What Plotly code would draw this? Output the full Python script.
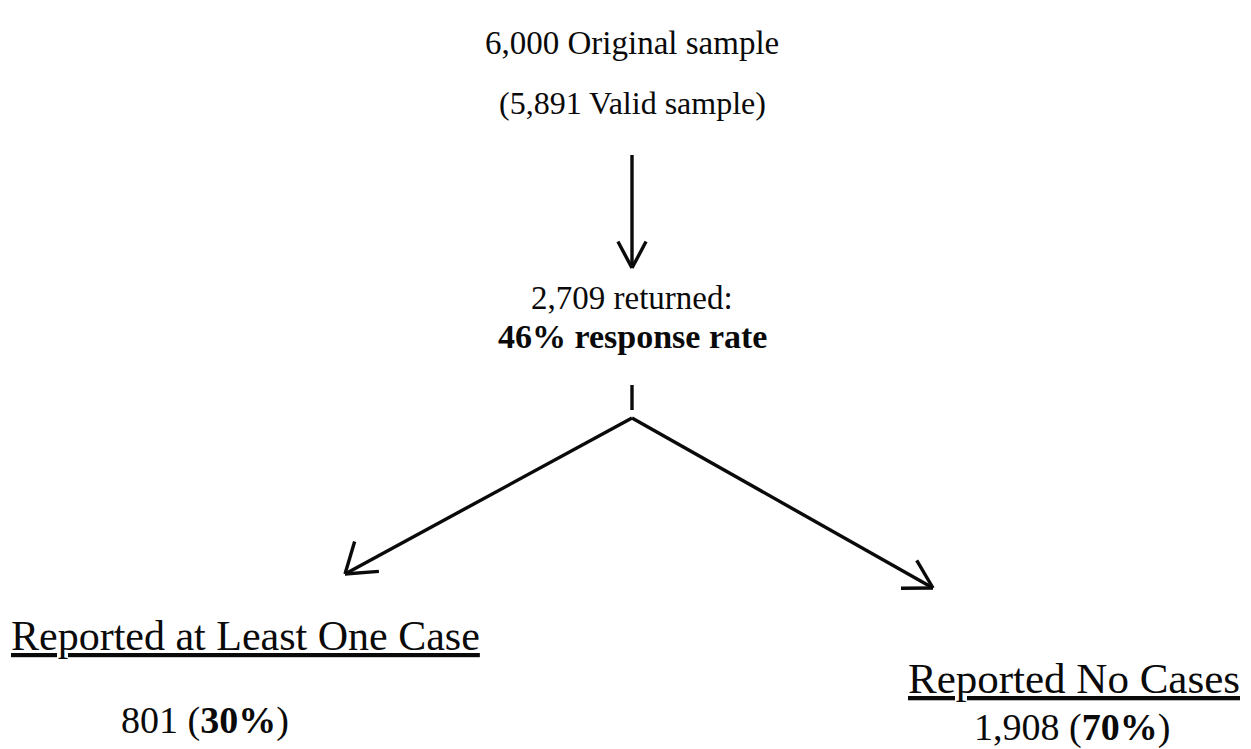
import math
import plotly.graph_objects as go

# ---- data ----
original_n = 6000
valid_n = 5891
returned_n = 2709
response_rate = 46
branch_labels = ["Reported at Least One Case", "Reported No Cases"]
branch_counts = [801, 1908]
branch_pcts = [30, 70]

W, H = 1251, 749
OFF = 8  # page body margin
FONT = "Liberation Serif"
INK = "#0a0a0a"

fig = go.Figure()
fig.add_trace(go.Scatter(x=[OFF, W], y=[OFF, H], mode="markers",
                         marker=dict(opacity=0), hoverinfo="skip", showlegend=False))

shapes = []


def line(x0, y0, x1, y1, w=3.4):
    shapes.append(dict(type="line", x0=x0, y0=y0, x1=x1, y1=y1, xref="x", yref="y",
                       line=dict(color=INK, width=w)))


def arrow(x0, y0, x1, y1, head=32, angs=(30, 30), w=3.4):
    line(x0, y0, x1, y1, w)
    back = math.atan2(y0 - y1, x0 - x1)
    for s, ang in zip((-1, 1), angs):
        a = back + s * math.radians(ang)
        line(x1, y1, x1 + head * math.cos(a), y1 + head * math.sin(a), w)


def text(x, y, s, size, bold=False, under=False, xanchor="center"):
    f = dict(family=FONT, size=size, color=INK)
    if under:
        f["lineposition"] = "under"
    fig.add_annotation(x=x, y=y, xref="x", yref="y", text=(f"<b>{s}</b>" if bold else s),
                       showarrow=False, font=f, xanchor=xanchor, yanchor="middle")


cx = 632
text(cx, 43, f"{original_n:,} Original sample", 33)
text(cx, 103, f"({valid_n:,} Valid sample)", 32)
arrow(cx, 155, cx, 268, head=30, angs=(28, 28))
text(cx, 298, f"{returned_n:,} returned:", 33)
text(cx, 336, f"{response_rate}% response rate", 34, bold=True)
line(cx, 385, cx, 410)

apex = (cx, 418)
arrow(apex[0], apex[1], 345, 574, head=34, angs=(45, 24))
arrow(apex[0], apex[1], 933, 588, head=32, angs=(30, 30))

text(9, 636, branch_labels[0], 42, under=True, xanchor="left")
text(1242, 678, branch_labels[1], 43, under=True, xanchor="right")
text(205, 720, f"{branch_counts[0]:,} (<b>{branch_pcts[0]}%</b>)", 38)
text(1072, 727, f"{branch_counts[1]:,} (<b>{branch_pcts[1]}%</b>)", 38)

fig.update_layout(
    width=W - OFF, height=H - OFF, margin=dict(l=0, r=0, t=0, b=0),
    paper_bgcolor="white", plot_bgcolor="white", shapes=shapes,
    xaxis=dict(range=[OFF, W], visible=False, fixedrange=True),
    yaxis=dict(range=[H, OFF], visible=False, fixedrange=True),
    showlegend=False,
)
fig.write_html("out.html")
